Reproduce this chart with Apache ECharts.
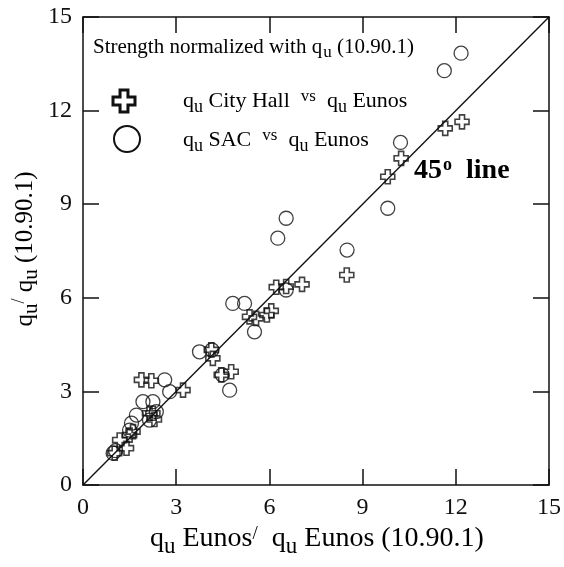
<!DOCTYPE html>
<html>
<head>
<meta charset="utf-8">
<script src="https://cdn.jsdelivr.net/npm/echarts@6/dist/echarts.min.js"></script>
<style>
html,body{margin:0;padding:0;background:#fff;}
#c{width:564px;height:567px;}
</style>
</head>
<body>
<div id="c"></div>
<script>
// City Hall vs Eunos (crosses)
const cityHallX = [1.02,1.18,1.40,1.50,1.61,1.88,2.20,2.14,2.25,2.30,3.22,4.18,4.13,4.45,4.77,5.36,5.57,5.92,6.06,6.22,6.54,7.05,8.49,9.81,10.24,11.66,12.20];
const cityHallY = [1.02,1.44,1.18,1.60,1.71,3.37,3.34,2.30,2.30,2.10,3.04,4.06,4.33,3.53,3.63,5.39,5.34,5.45,5.58,6.34,6.36,6.43,6.73,9.88,10.47,11.43,11.64];
// SAC vs Eunos (circles)
const sacX = [0.97,1.05,1.50,1.56,1.72,2.14,2.36,1.93,2.25,2.63,2.79,3.75,4.15,4.48,4.72,4.82,5.20,5.52,6.54,6.27,6.54,8.50,9.81,10.22,11.63,12.17];
const sacY = [1.02,1.10,1.76,1.98,2.24,2.08,2.35,2.67,2.67,3.37,2.99,4.27,4.33,3.53,3.04,5.82,5.82,4.91,6.25,7.91,8.55,7.53,8.87,10.98,13.28,13.84];
// 45 degree reference line
const lineX = [0, 15];
const lineY = [0, 15];
// axis ticks
const axisMin = 0, axisMax = 15, axisStep = 3;

const zip = (a, b) => a.map((v, i) => [v, b[i]]);
const SERIF = '"Liberation Serif", "DejaVu Serif", serif';
const CROSS = 'path://M3.2,0H6.8V3.2H10V6.8H6.8V10H3.2V6.8H0V3.2H3.2Z';

// legend cross icon outline (unit shape, scaled below)
const crossUnit = [[3.2,0],[6.8,0],[6.8,3.2],[10,3.2],[10,6.8],[6.8,6.8],[6.8,10],[3.2,10],[3.2,6.8],[0,6.8],[0,3.2],[3.2,3.2]];
const crossIcon = crossUnit.map(p => [113 + p[0] * 2.2, 90 + p[1] * 2.2]);

const chart = echarts.init(document.getElementById('c'), null, {renderer: 'canvas'});

const baseAxis = {
  min: axisMin, max: axisMax, interval: axisStep,
  axisLine: {show: true, onZero: false, lineStyle: {color: '#111', width: 1.5}},
  axisTick: {show: true, inside: true, length: 16, lineStyle: {color: '#111', width: 1.5}},
  splitLine: {show: false},
  axisLabel: {show: true, color: '#111', fontFamily: SERIF, fontSize: 24, margin: 11}
};

const mk = (fs, sfs, vfs) => ({
  a: {fontFamily: SERIF, fontSize: fs, color: '#111', verticalAlign: 'bottom', padding: [0,0,Math.round(fs*0.17),0]},
  s: {fontFamily: SERIF, fontSize: sfs, color: '#111', verticalAlign: 'bottom', padding: [0,0,0,0]},
  v: {fontFamily: SERIF, fontSize: vfs, color: '#111', verticalAlign: 'bottom', padding: [0,0,Math.round(fs*0.5),0]}
});

chart.setOption({
  animation: false,
  backgroundColor: '#fff',
  grid: {left: 83, right: 14, top: 17, bottom: 82},
  xAxis: [
    Object.assign({}, baseAxis, {type: 'value', position: 'bottom'}),
    Object.assign({}, baseAxis, {type: 'value', position: 'top', axisLabel: {show: false}})
  ],
  yAxis: [
    Object.assign({}, baseAxis, {type: 'value', position: 'left'}),
    Object.assign({}, baseAxis, {type: 'value', position: 'right', axisLabel: {show: false}})
  ],
  series: [
    {
      type: 'line', data: zip(lineX, lineY), symbol: 'none',
      lineStyle: {color: '#111', width: 1.4}, z: 1
    },
    {
      type: 'scatter', name: 'City Hall', data: zip(cityHallX, cityHallY),
      symbol: CROSS, symbolSize: 14,
      itemStyle: {color: 'rgba(255,255,255,0)', borderColor: '#111', borderWidth: 1.6}, z: 3
    },
    {
      type: 'scatter', name: 'SAC', data: zip(sacX, sacY),
      symbol: 'circle', symbolSize: 14,
      itemStyle: {color: 'rgba(255,255,255,0)', borderColor: '#111', borderWidth: 1.3}, z: 2
    }
  ],
  graphic: [
    {type: 'text', left: 93, top: 37, style: {
      text: '{a|Strength normalized with q}{s|u}{a| (10.90.1)}',
      rich: {
        a: {fontFamily: SERIF, fontSize: 21, color: '#111', verticalAlign: 'bottom', padding: [0,0,3,0]},
        s: {fontFamily: SERIF, fontSize: 17, color: '#111', verticalAlign: 'bottom', padding: [0,0,0,1]}
      }
    }},
    {type: 'polygon', shape: {points: crossIcon}, style: {fill: 'none', stroke: '#111', lineWidth: 3}},
    {type: 'circle', shape: {cx: 127, cy: 139, r: 13}, style: {fill: 'none', stroke: '#111', lineWidth: 2}},
    {type: 'text', left: 183, top: 88, style: {
      text: '{a|q}{s|u}{a| City Hall  }{v|vs}{a|  q}{s|u}{a| Eunos}',
      rich: mk(22, 18, 17)
    }},
    {type: 'text', left: 183, top: 127, style: {
      text: '{a|q}{s|u}{a| SAC  }{v|vs}{a|  q}{s|u}{a| Eunos}',
      rich: mk(22, 18, 17)
    }},
    {type: 'text', left: 414, top: 156, style: {
      text: '{b|45}{o|o}{b|  line}',
      rich: {
        b: {fontFamily: SERIF, fontSize: 28, fontWeight: 'bold', color: '#111', verticalAlign: 'bottom', padding: [0,0,0,0]},
        o: {fontFamily: SERIF, fontSize: 18, fontWeight: 'bold', color: '#111', verticalAlign: 'bottom', padding: [0,0,11,1]}
      }
    }},
    {type: 'text', left: 150, top: 525, style: {
      text: '{a|q}{s|u}{a| Eunos}{v|/}{a|  q}{s|u}{a| Eunos (10.90.1)}',
      rich: mk(28, 23, 19)
    }},
    {type: 'text', x: 26, y: 249, rotation: Math.PI / 2, style: {
      text: '{a|q}{s|u}{v|/}{a| q}{s|u}{a| (10.90.1)}',
      align: 'center', verticalAlign: 'middle',
      rich: mk(25, 21, 18)
    }}
  ]
});
</script>
</body>
</html>
